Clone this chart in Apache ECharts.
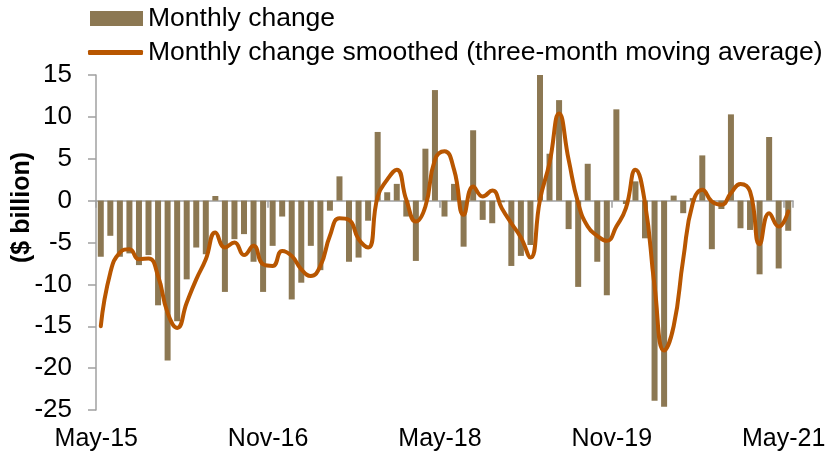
<!DOCTYPE html>
<html>
<head>
<meta charset="utf-8">
<script src="https://cdn.jsdelivr.net/npm/echarts@6/dist/echarts.min.js"></script>
<style>
  html, body { margin: 0; padding: 0; background: #fff; }
  #chart { width: 835px; height: 458px; }
</style>
</head>
<body>
<div id="chart"></div>
<script>
// months May-15 .. May-21
var monthNames = ['Jan', 'Feb', 'Mar', 'Apr', 'May', 'Jun', 'Jul', 'Aug', 'Sep', 'Oct', 'Nov', 'Dec'];
var categories = [];
for (var i = 0; i < 73; i++) {
  var m = (4 + i) % 12;
  var y = 15 + Math.floor((4 + i) / 12);
  categories.push(monthNames[m] + '-' + y);
}

// monthly change, $ billion
var monthlyChange = [
  -6.7, -4.2, -6.7, -6.3, -7.7, -6.5, -12.5, -19.1, -14.4, -9.4, -5.6, -6.4,
  0.55, -10.9, -4.6, -4.0, -7.3, -10.9, -5.4, -1.9, -11.8, -9.8, -5.4, -8.3,
  -1.2, 2.9, -7.3, -6.8, -2.4, 8.2, 1.0, 2.0, -1.9, -7.2, 6.2, 13.2,
  -1.9, 2.0, -5.5, 8.4, -2.3, -2.7, -0.2, -7.8, -6.6, -5.3, 15.0, 5.6,
  12.0, -3.4, -10.3, 4.4, -7.3, -11.3, 10.9, -0.4, 2.3, -4.5, -23.9, -24.6,
  0.6, -1.5, 0.3, 5.4, -5.8, -1.0, 10.3, -3.3, -3.5, -8.8, 7.6, -8.1,
  -3.6
];

// three-month moving average as drawn
var smoothed = [
  -15.0, -8.6, -6.2, -5.8, -7.0, -6.9, -9.0, -13.4, -15.2, -12.2, -9.4, -7.0,
  -3.8, -5.6, -5.0, -6.5, -5.4, -7.6, -7.8, -6.0, -6.6, -8.2, -9.0, -7.8,
  -4.2, -2.1, -2.3, -4.6, -5.6, 0.5, 2.5, 3.7, 0.1, -2.5, -0.7, 4.9,
  5.9, 3.7, -1.7, 1.7, 0.5, 1.2, -0.9, -2.7, -4.4, -6.8, 0.1, 4.5,
  10.4, 4.9, -0.3, -3.1, -4.2, -4.8, -3.1, -0.9, 3.7, -0.3, -10.2, -17.9,
  -15.0, -7.0, -0.3, 1.3, -0.1, -0.5, 0.9, 2.0, 1.1, -5.2, -1.5, -3.1,
  -1.3
];

var barName = 'Monthly change';
var lineName = 'Monthly change smoothed (three-month moving average)';

var font = 'Liberation Sans, Arial, sans-serif';
var axisGrey = '#A0A0A0';

var chart = echarts.init(document.getElementById('chart'));
chart.setOption({
  animation: false,
  textStyle: { fontFamily: font },
  legend: [
    {
      left: 90, top: 5, orient: 'vertical', padding: 0,
      itemWidth: 53, itemHeight: 15, icon: 'rect',
      textStyle: { fontSize: 26.5, color: '#000', fontFamily: font },
      data: [barName]
    },
    {
      left: 88, top: 39, orient: 'vertical', padding: 0,
      itemWidth: 55, itemHeight: 5, icon: 'roundRect',
      textStyle: { fontSize: 26.5, color: '#000', fontFamily: font },
      data: [lineName]
    }
  ],
  grid: { left: 96, right: 42, top: 75, bottom: 48, outerBoundsMode: 'none' },
  xAxis: [
    {
      type: 'category',
      data: categories,
      position: 'top',
      axisLine: { onZero: true, lineStyle: { color: axisGrey, width: 1.5 } },
      axisTick: { show: true, inside: true, interval: 17, length: 7, lineStyle: { color: axisGrey, width: 1.5 } },
      axisLabel: { show: false },
      splitLine: { show: false }
    },
    {
      type: 'category',
      data: categories,
      position: 'bottom',
      axisLine: { show: false, onZero: false },
      axisTick: { show: false },
      axisLabel: {
        interval: 17, margin: 17, fontSize: 25, color: '#000', fontFamily: font,
        padding: [0, 9, 0, 0]
      },
      splitLine: { show: false }
    }
  ],
  yAxis: {
    type: 'value',
    min: -25, max: 15, interval: 5,
    name: '($ billion)',
    nameLocation: 'middle',
    nameGap: 61,
    nameRotate: 90,
    nameMoveOverlap: false,
    nameTextStyle: { fontSize: 25, fontWeight: 'bold', color: '#000', fontFamily: font, padding: [0, 0, 0, 70] },
    axisLine: { show: true, lineStyle: { color: axisGrey, width: 1.5 } },
    axisTick: { show: true, length: 8, lineStyle: { color: axisGrey, width: 1.5 } },
    axisLabel: { margin: 24, fontSize: 26, color: '#000', fontFamily: font },
    splitLine: { show: false }
  },
  series: [
    {
      name: barName,
      type: 'bar',
      xAxisIndex: 0,
      data: monthlyChange,
      barWidth: 6,
      itemStyle: { color: '#8C7853' }
    },
    {
      name: lineName,
      type: 'line',
      xAxisIndex: 0,
      data: smoothed,
      smooth: 0.5,
      symbol: 'none',
      itemStyle: { color: '#B85600' },
      lineStyle: { color: '#B85600', width: 4, cap: 'round' }
    }
  ]
});
</script>
</body>
</html>
